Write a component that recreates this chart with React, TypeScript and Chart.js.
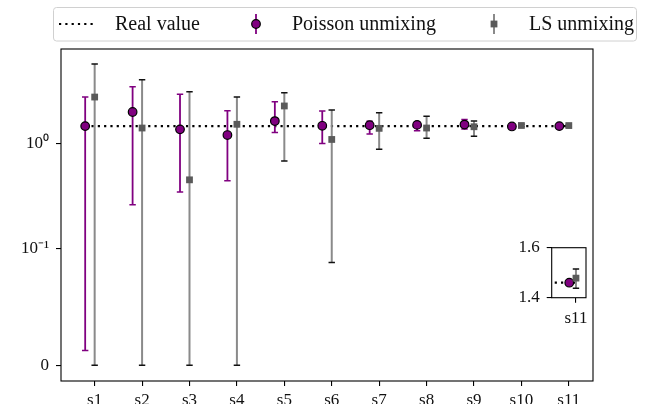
import React, { useEffect, useRef } from 'react';
import { Chart, registerables, LinearScale } from 'chart.js';

// ---------------- data ----------------
const categories = ['s1', 's2', 's3', 's4', 's5', 's6', 's7', 's8', 's9', 's10', 's11'];
const positions = [1, 2, 3, 4, 5, 6, 7, 8, 9, 10, 11];
const realValues = [1.46, 1.46, 1.46, 1.46, 1.46, 1.46, 1.46, 1.46, 1.46, 1.46, 1.46];

const poissonValues = [1.46, 1.99, 1.36, 1.2, 1.63, 1.47, 1.49, 1.5, 1.51, 1.45, 1.46];
const poissonLow = [0.0126, 0.261, 0.344, 0.44, 1.27, 1.0, 1.23, 1.32, 1.37, 1.43, 1.455];
const poissonHigh = [2.76, 3.46, 2.93, 2.05, 2.49, 2.03, 1.62, 1.61, 1.69, 1.48, 1.465];

const lsValues = [2.76, 1.4, 0.45, 1.52, 2.27, 1.09, 1.39, 1.4, 1.44, 1.48, 1.478];
const lsLow = [0, 0, 0, 0, 0.68, 0.088, 0.88, 1.12, 1.17, 1.44, 1.438];
const lsHigh = [5.7, 4.04, 3.1, 2.76, 3.03, 2.08, 1.96, 1.81, 1.63, 1.52, 1.515];

const yTickValues = [0, 0.1, 1];
const yTickLabels = ['0', '10\u207B\u00B9', '10\u2070'];
const insetYTickValues = [1.4, 1.6];
const insetYTickLabels = ['1.4', '1.6'];
const insetCategoryIndex = [10];
const legendLabels = ['Real value', 'Poisson unmixing', 'LS unmixing'];

const POISSON_OFFSET = -0.2;
const LS_OFFSET = 0;

// ---------------- styles ----------------
const FONT = "'Liberation Serif', 'Times New Roman', serif";
const PURPLE = '#800080';
const LS_BAR = '#8a8a8a';
const LS_MARK = '#5a5a5a';
const DOT_W = 2.2;
const DOT_DASH = [2.2, 4.1];

// ---------------- symlog scale ----------------
const LINTHRESH = 0.1;
const LINSCALE_ADJ = 1 / (1 - 1 / 10);
function symT(v: number) {
  const a = Math.abs(v);
  if (a <= LINTHRESH) return (v / LINTHRESH) * LINSCALE_ADJ;
  return Math.sign(v) * (LINSCALE_ADJ + Math.log10(a / LINTHRESH));
}
function symInv(t: number) {
  const a = Math.abs(t);
  if (a <= LINSCALE_ADJ) return (t / LINSCALE_ADJ) * LINTHRESH;
  return Math.sign(t) * LINTHRESH * Math.pow(10, a - LINSCALE_ADJ);
}

class SymlogScale extends (LinearScale as any) {
  buildTicks() {
    return yTickValues.map((v) => ({ value: v }));
  }
  getPixelForValue(value: number) {
    if (value === null || value === undefined || isNaN(value)) return NaN;
    const t0 = symT(this.min);
    const t1 = symT(this.max);
    return this.getPixelForDecimal((symT(value) - t0) / (t1 - t0));
  }
  getValueForPixel(pixel: number) {
    const t0 = symT(this.min);
    const t1 = symT(this.max);
    return symInv(t0 + this.getDecimalForPixel(pixel) * (t1 - t0));
  }
}
(SymlogScale as any).id = 'symlog';
(SymlogScale as any).defaults = (LinearScale as any).defaults;

Chart.register(...registerables, SymlogScale as any);

// ---------------- plugins ----------------
const errorBarPlugin = {
  id: 'errorBars',
  beforeDatasetDraw(chart: any, args: any) {
    const ds = chart.data.datasets[args.index];
    if (!ds.errLow) return;
    const xs = chart.scales.x;
    const ys = chart.scales.y;
    const ctx = chart.ctx;
    const a = chart.chartArea;
    ctx.save();
    ctx.beginPath();
    ctx.rect(a.left, a.top, a.right - a.left, a.bottom - a.top);
    ctx.clip();
    ds.data.forEach((p: any, i: number) => {
      const px = xs.getPixelForValue(p.x);
      const y0 = ys.getPixelForValue(ds.errLow[i]);
      const y1 = ys.getPixelForValue(ds.errHigh[i]);
      ctx.strokeStyle = ds.errColor;
      ctx.lineWidth = ds.errWidth;
      ctx.lineCap = 'butt';
      ctx.beginPath();
      ctx.moveTo(px, y0);
      ctx.lineTo(px, y1);
      ctx.stroke();
      ctx.strokeStyle = ds.capColor;
      ctx.lineWidth = 1.5;
      ctx.beginPath();
      ctx.moveTo(px - 3.2, y0);
      ctx.lineTo(px + 3.2, y0);
      ctx.moveTo(px - 3.2, y1);
      ctx.lineTo(px + 3.2, y1);
      ctx.stroke();
    });
    ctx.restore();
  },
};

const framePlugin = {
  id: 'frame',
  afterDraw(chart: any) {
    const a = chart.chartArea;
    const ctx = chart.ctx;
    ctx.save();
    ctx.strokeStyle = '#000';
    ctx.lineWidth = 1.1;
    ctx.strokeRect(a.left, a.top, a.right - a.left, a.bottom - a.top);
    ctx.restore();
  },
};

const insetBgPlugin = {
  id: 'insetBg',
  beforeDraw(chart: any) {
    const a = chart.chartArea;
    const ctx = chart.ctx;
    ctx.save();
    ctx.fillStyle = '#fff';
    ctx.fillRect(a.left, a.top, a.right - a.left, a.bottom - a.top);
    ctx.restore();
  },
};

const legendPlugin = {
  id: 'customLegend',
  afterDraw(chart: any) {
    const ctx = chart.ctx;
    ctx.save();
    ctx.fillStyle = 'rgba(255,255,255,0.85)';
    ctx.strokeStyle = '#d0d0d0';
    ctx.lineWidth = 1;
    ctx.beginPath();
    (ctx as any).roundRect(53.5, 7.5, 583, 33.5, 3);
    ctx.fill();
    ctx.stroke();
    const cy = 24;
    // real value
    ctx.strokeStyle = '#000';
    ctx.lineWidth = DOT_W;
    ctx.setLineDash(DOT_DASH);
    ctx.beginPath();
    ctx.moveTo(59, cy);
    ctx.lineTo(96, cy);
    ctx.stroke();
    ctx.setLineDash([]);
    // poisson
    ctx.strokeStyle = PURPLE;
    ctx.lineWidth = 1.8;
    ctx.beginPath();
    ctx.moveTo(256, cy - 10);
    ctx.lineTo(256, cy + 10);
    ctx.stroke();
    ctx.fillStyle = PURPLE;
    ctx.strokeStyle = '#000';
    ctx.lineWidth = 1.2;
    ctx.beginPath();
    ctx.arc(256, cy, 4.3, 0, Math.PI * 2);
    ctx.fill();
    ctx.stroke();
    // LS
    ctx.strokeStyle = LS_BAR;
    ctx.lineWidth = 2;
    ctx.beginPath();
    ctx.moveTo(494, cy - 10);
    ctx.lineTo(494, cy + 10);
    ctx.stroke();
    ctx.fillStyle = LS_MARK;
    ctx.fillRect(494 - 3.4, cy - 3.4, 6.8, 6.8);
    // text
    ctx.fillStyle = '#111';
    ctx.font = `20px ${FONT}`;
    ctx.textBaseline = 'alphabetic';
    ctx.textAlign = 'left';
    ctx.fillText(legendLabels[0], 115, 30);
    ctx.fillText(legendLabels[1], 292, 30);
    ctx.fillText(legendLabels[2], 529, 30);
    ctx.restore();
  },
};

// ---------------- datasets ----------------
function makeDatasets() {
  const realLine = positions.map((p, i) => ({ x: p + POISSON_OFFSET, y: realValues[i] }));
  realLine.push({ x: positions[positions.length - 1] + LS_OFFSET, y: realValues[realValues.length - 1] });
  return [
    {
      label: legendLabels[0],
      data: realLine,
      showLine: true,
      borderColor: '#000',
      borderWidth: DOT_W,
      borderDash: DOT_DASH,
      borderCapStyle: 'butt',
      pointRadius: 0,
      order: 3,
    },
    {
      label: legendLabels[1],
      data: positions.map((p, i) => ({ x: p + POISSON_OFFSET, y: poissonValues[i] })),
      errLow: poissonLow,
      errHigh: poissonHigh,
      errColor: PURPLE,
      capColor: PURPLE,
      errWidth: 1.8,
      pointStyle: 'circle',
      pointRadius: 4.3,
      backgroundColor: PURPLE,
      borderColor: '#000',
      borderWidth: 1.2,
      order: 2,
    },
    {
      label: legendLabels[2],
      data: positions.map((p, i) => ({ x: p + LS_OFFSET, y: lsValues[i] })),
      errLow: lsLow,
      errHigh: lsHigh,
      errColor: LS_BAR,
      capColor: '#111',
      errWidth: 2,
      pointStyle: 'rect',
      pointRadius: 4.8,
      backgroundColor: LS_MARK,
      borderWidth: 0,
      order: 1,
    },
  ];
}

const tickGrid = {
  display: true,
  drawOnChartArea: false,
  drawTicks: true,
  tickLength: 5,
  color: '#000',
  lineWidth: 1.1,
};

function mainConfig(): any {
  return {
    type: 'scatter',
    data: { datasets: makeDatasets() },
    options: {
      responsive: false,
      animation: false,
      devicePixelRatio: 1,
      events: [],
      layout: { padding: { left: 0, top: 49, right: 53, bottom: 0 } },
      plugins: { legend: { display: false }, tooltip: { enabled: false } },
      scales: {
        x: {
          type: 'linear',
          min: 0.29,
          max: 11.51,
          afterFit: (s: any) => { s.height = 23; },
          afterBuildTicks: (s: any) => { s.ticks = positions.map((v) => ({ value: v })); },
          grid: tickGrid,
          border: { display: false },
          ticks: {
            autoSkip: false,
            maxRotation: 0,
            padding: 4.5,
            color: '#111',
            font: { family: FONT, size: 17 },
            callback: (v: number) => categories[positions.indexOf(Math.round(v))],
          },
        },
        y: {
          type: 'symlog',
          min: -0.0135,
          max: 7.91,
          afterFit: (s: any) => { s.width = 61; },
          grid: tickGrid,
          border: { display: false },
          ticks: {
            padding: 7,
            color: '#111',
            font: { family: FONT, size: 17 },
            callback: (v: number) => yTickLabels[yTickValues.indexOf(v)],
          },
        },
      },
    },
    plugins: [errorBarPlugin, framePlugin, legendPlugin],
  };
}

function insetConfig(): any {
  return {
    type: 'scatter',
    data: { datasets: makeDatasets() },
    options: {
      responsive: false,
      animation: false,
      devicePixelRatio: 1,
      events: [],
      layout: { padding: { left: 0, top: 247.7, right: 60, bottom: 66.3 } },
      plugins: { legend: { display: false }, tooltip: { enabled: false } },
      scales: {
        x: {
          type: 'linear',
          min: 10.275,
          max: 11.3,
          afterFit: (s: any) => { s.height = 40; },
          afterBuildTicks: (s: any) => { s.ticks = insetCategoryIndex.map((i) => ({ value: positions[i] })); },
          grid: tickGrid,
          border: { display: false },
          ticks: {
            autoSkip: false,
            maxRotation: 0,
            padding: 5.5,
            color: '#111',
            font: { family: FONT, size: 17 },
            callback: (v: number) => categories[positions.indexOf(Math.round(v))],
          },
        },
        y: {
          type: 'linear',
          min: 1.4,
          max: 1.6,
          afterFit: (s: any) => { s.width = 551.7; },
          afterBuildTicks: (s: any) => { s.ticks = insetYTickValues.map((v) => ({ value: v })); },
          grid: tickGrid,
          border: { display: false },
          ticks: {
            padding: 7,
            color: '#111',
            font: { family: FONT, size: 17 },
            callback: (v: number) => insetYTickLabels[insetYTickValues.findIndex((t) => Math.abs(t - v) < 1e-9)],
          },
        },
      },
    },
    plugins: [insetBgPlugin, errorBarPlugin, framePlugin],
  };
}

export default function App() {
  const mainRef = useRef<HTMLCanvasElement>(null);
  const insetRef = useRef<HTMLCanvasElement>(null);
  useEffect(() => {
    const main = new Chart(mainRef.current as HTMLCanvasElement, mainConfig());
    const inset = new Chart(insetRef.current as HTMLCanvasElement, insetConfig());
    return () => {
      main.destroy();
      inset.destroy();
    };
  }, []);
  return (
    <div style={{ position: 'fixed', left: 0, top: 0, width: 646, height: 404, background: '#fff', overflow: 'hidden' }}>
      <canvas ref={mainRef} width={646} height={404} style={{ position: 'absolute', left: 0, top: 0 }} />
      <canvas ref={insetRef} width={646} height={404} style={{ position: 'absolute', left: 0, top: 0 }} />
    </div>
  );
}
